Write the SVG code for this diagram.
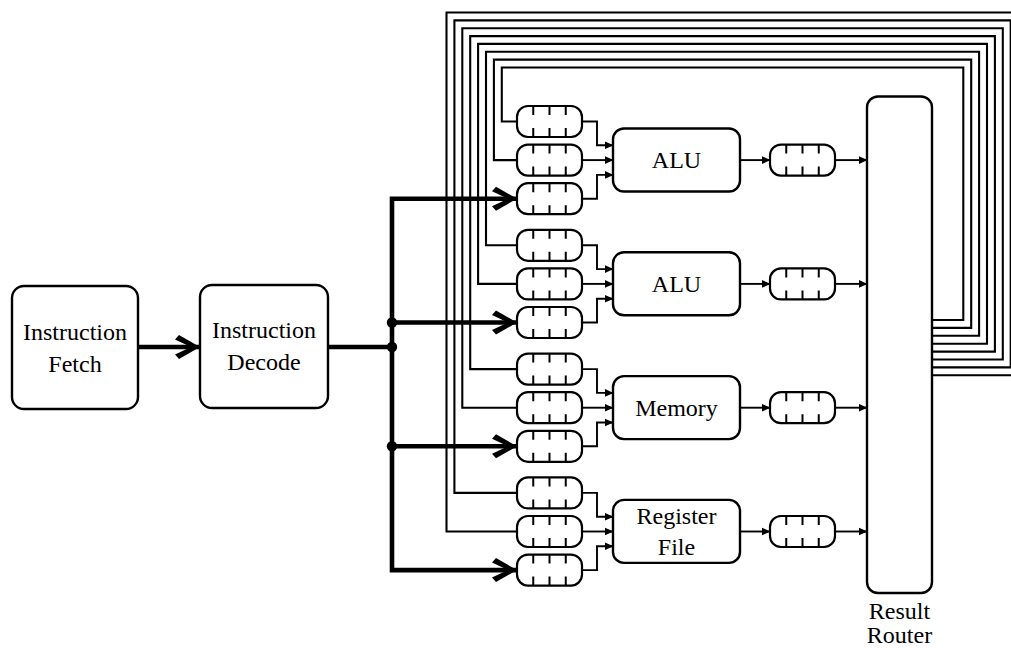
<svg xmlns="http://www.w3.org/2000/svg" width="1011" height="648" viewBox="0 0 1011 648">
  <style>
    .box { fill: #fff; stroke: #000; stroke-width: 2.4; }
    .q { fill: #fff; stroke: #000; stroke-width: 2.2; }
    .tick { stroke: #000; stroke-width: 2; }
    .thin { fill: none; stroke: #000; stroke-width: 1.9; }
    .loop { fill: none; stroke: #000; stroke-width: 2.1; }
    .bus { fill: none; stroke: #000; stroke-width: 4.6; }
    .lbl { font-family: "Liberation Serif", "Times New Roman", serif; font-size: 24px; fill: #000; text-anchor: middle; }
  </style>
  <defs>
    <marker id="chev" markerUnits="userSpaceOnUse" markerWidth="30" markerHeight="30" viewBox="-26 -15 30 30" refX="0" refY="0" orient="auto-start-reverse">
      <path d="M0,0 L-21,-12 L-25,-7.5 L-9,0 L-25,7.5 L-21,12Z" fill="#000"/>
    </marker>
    <marker id="tri" markerUnits="userSpaceOnUse" markerWidth="12" markerHeight="12" viewBox="-10 -6 12 12" refX="0" refY="0" orient="auto">
      <path d="M0.5,0 L-8,-3.8 L-8,3.8Z" fill="#000"/>
    </marker>
    <g id="queue">
      <rect class="q" x="0" y="-15.5" width="65" height="31" rx="11" ry="11"/>
      <path class="tick" d="M16.25,-15.5v9 M32.5,-15.5v9 M48.75,-15.5v9 M16.25,15.5v-9 M32.5,15.5v-9 M48.75,15.5v-9"/>
    </g>
  </defs>

  <!-- connectors -->
  <g id="connectors">
    <!-- fetch to decode -->
    <path class="bus" d="M138,347 H200" marker-end="url(#chev)"/>
    <!-- decode issue bus -->
    <path class="bus" d="M328,347 H392"/>
    <path class="bus" d="M517,198.7 H392 V570.1 H517" marker-start="url(#chev)" marker-end="url(#chev)"/>
    <path class="bus" d="M392,322.5 H517" marker-end="url(#chev)"/>
    <path class="bus" d="M392,446.3 H517" marker-end="url(#chev)"/>
    <circle cx="392" cy="322.5" r="5.2"/>
    <circle cx="392" cy="347" r="5.2"/>
    <circle cx="392" cy="446.3" r="5.2"/>

    <!-- result feedback loops, router back to operand queues -->
    <path class="loop" d="M932,375.3 H1018.6 V12.5 H446.5 V531.5 H517"/>
    <path class="loop" d="M932,367.4 H1010.7 V20.4 H454.4 V492.9 H517"/>
    <path class="loop" d="M932,359.5 H1002.8 V28.2 H462.3 V407.7 H517"/>
    <path class="loop" d="M932,351.6 H994.9 V36.1 H470.2 V369.1 H517"/>
    <path class="loop" d="M932,343.7 H987 V43.9 H478.1 V283.9 H517"/>
    <path class="loop" d="M932,335.8 H979.1 V51.8 H486 V245.3 H517"/>
    <path class="loop" d="M932,327.9 H971.2 V59.6 H493.9 V160.1 H517"/>
    <path class="loop" d="M932,320 H963.3 V67.5 H501.8 V121.5 H517"/>

    <!-- operand queues into units, units to result queues, result queues to router -->
    <g id="c-alu1">
      <path class="thin" d="M582,121.5 H597 V145.3 H613" marker-end="url(#tri)"/>
      <path class="thin" d="M582,160.1 H613" marker-end="url(#tri)"/>
      <path class="thin" d="M582,198.7 H597 V174.9 H613" marker-end="url(#tri)"/>
      <path class="thin" d="M740,160.1 H770" marker-end="url(#tri)"/>
      <path class="thin" d="M835,160.1 H867" marker-end="url(#tri)"/>
    </g>
    <g id="c-alu2" transform="translate(0,123.8)">
      <path class="thin" d="M582,121.5 H597 V145.3 H613" marker-end="url(#tri)"/>
      <path class="thin" d="M582,160.1 H613" marker-end="url(#tri)"/>
      <path class="thin" d="M582,198.7 H597 V174.9 H613" marker-end="url(#tri)"/>
      <path class="thin" d="M740,160.1 H770" marker-end="url(#tri)"/>
      <path class="thin" d="M835,160.1 H867" marker-end="url(#tri)"/>
    </g>
    <g id="c-mem" transform="translate(0,247.6)">
      <path class="thin" d="M582,121.5 H597 V145.3 H613" marker-end="url(#tri)"/>
      <path class="thin" d="M582,160.1 H613" marker-end="url(#tri)"/>
      <path class="thin" d="M582,198.7 H597 V174.9 H613" marker-end="url(#tri)"/>
      <path class="thin" d="M740,160.1 H770" marker-end="url(#tri)"/>
      <path class="thin" d="M835,160.1 H867" marker-end="url(#tri)"/>
    </g>
    <g id="c-reg" transform="translate(0,371.4)">
      <path class="thin" d="M582,121.5 H597 V145.3 H613" marker-end="url(#tri)"/>
      <path class="thin" d="M582,160.1 H613" marker-end="url(#tri)"/>
      <path class="thin" d="M582,198.7 H597 V174.9 H613" marker-end="url(#tri)"/>
      <path class="thin" d="M740,160.1 H770" marker-end="url(#tri)"/>
      <path class="thin" d="M835,160.1 H867" marker-end="url(#tri)"/>
    </g>
  </g>

  <!-- front end -->
  <g id="fetch">
    <rect class="box" x="12" y="286" width="126" height="123" rx="12"/>
    <text class="lbl" x="75" y="340">Instruction</text>
    <text class="lbl" x="75" y="372">Fetch</text>
  </g>
  <g id="decode">
    <rect class="box" x="200" y="285" width="128" height="123" rx="12"/>
    <text class="lbl" x="264" y="338">Instruction</text>
    <text class="lbl" x="264" y="370">Decode</text>
  </g>

  <!-- ALU 1 -->
  <g id="alu1">
    <use href="#queue" x="517" y="121.5"/>
    <use href="#queue" x="517" y="160.1"/>
    <use href="#queue" x="517" y="198.7"/>
    <rect class="box" x="613" y="128.5" width="127" height="63" rx="11"/>
    <text class="lbl" x="676.5" y="168">ALU</text>
    <use href="#queue" x="770" y="160.1"/>
  </g>

  <!-- ALU 2 -->
  <g id="alu2" transform="translate(0,123.8)">
    <use href="#queue" x="517" y="121.5"/>
    <use href="#queue" x="517" y="160.1"/>
    <use href="#queue" x="517" y="198.7"/>
    <rect class="box" x="613" y="128.5" width="127" height="63" rx="11"/>
    <text class="lbl" x="676.5" y="168">ALU</text>
    <use href="#queue" x="770" y="160.1"/>
  </g>

  <!-- memory unit -->
  <g id="memory" transform="translate(0,247.6)">
    <use href="#queue" x="517" y="121.5"/>
    <use href="#queue" x="517" y="160.1"/>
    <use href="#queue" x="517" y="198.7"/>
    <rect class="box" x="613" y="128.5" width="127" height="63" rx="11"/>
    <text class="lbl" x="676.5" y="168">Memory</text>
    <use href="#queue" x="770" y="160.1"/>
  </g>

  <!-- register file -->
  <g id="regfile" transform="translate(0,371.4)">
    <use href="#queue" x="517" y="121.5"/>
    <use href="#queue" x="517" y="160.1"/>
    <use href="#queue" x="517" y="198.7"/>
    <rect class="box" x="613" y="128.5" width="127" height="63" rx="11"/>
    <text class="lbl" x="676.5" y="152.5">Register</text>
    <text class="lbl" x="676.5" y="183.5">File</text>
    <use href="#queue" x="770" y="160.1"/>
  </g>

  <!-- result router -->
  <g id="router">
    <rect class="box" x="867" y="96.5" width="65" height="496.5" rx="11"/>
    <text class="lbl" x="899.5" y="619">Result</text>
    <text class="lbl" x="899.5" y="643">Router</text>
  </g>
</svg>
